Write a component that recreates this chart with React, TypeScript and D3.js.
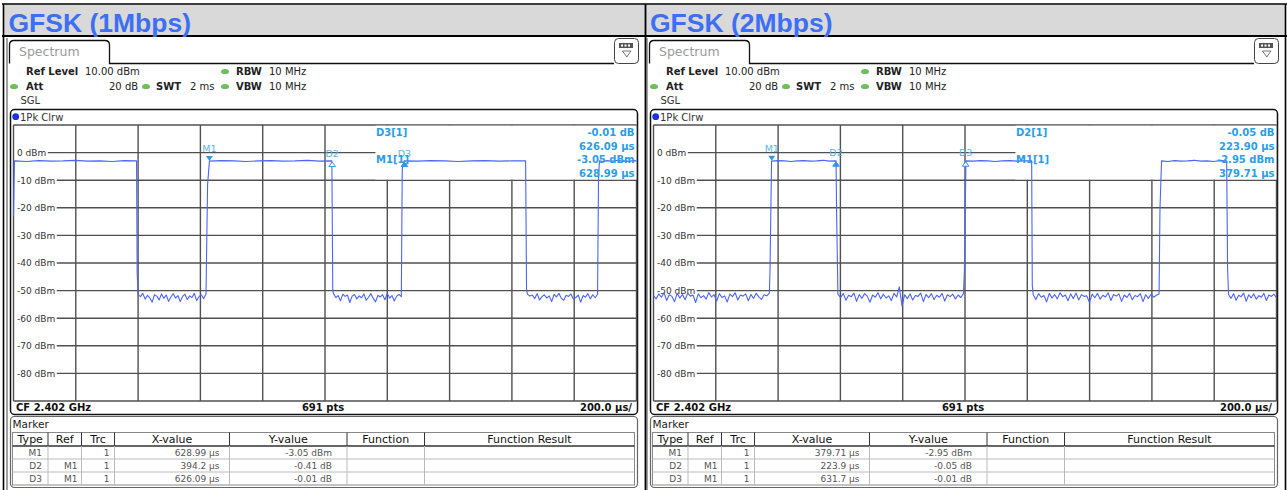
import React, { useEffect, useRef } from "react";
import * as d3 from "d3";

const W = 1287;
const H = 490;

// axes
const xDomain = [0, 2000]; // µs, 200 µs/div
const yDomain = [-90, 10]; // dBm
const yTicks = [0, -10, -20, -30, -40, -50, -60, -70, -80];
const xDivs = [0, 200, 400, 600, 800, 1000, 1200, 1400, 1600, 1800, 2000];

const titles = ["GFSK (1Mbps)", "GFSK (2Mbps)"];

// trace levels (dBm)
const highA = [-3.0, -3.2, -2.9, -3.1, -3.0, -2.8, -3.1, -3.0, -3.2, -2.9, -3.0];
const highB = [-3.1, -2.9, -3.0, -3.2, -3.0, -2.9, -3.1, -3.0, -2.8, -3.1, -3.0];
const highC = [-3.0, -3.1, -2.9, -3.0, -3.2, -3.0, -2.9, -3.1, -3.0, -3.0];

const noise1A = [-51.4, -52.2, -51.0, -53.1, -51.7, -52.6, -54.2, -51.5, -52.0, -53.4, -51.2, -52.8, -51.6, -53.9, -52.3,
  -51.1, -52.7, -51.8, -54.0, -52.1, -51.3, -53.2, -51.9, -52.5, -51.0, -53.6, -52.2, -51.5, -52.9, -51.2];
const noise1B = [-51.0, -52.5, -51.8, -53.7, -51.3, -52.1, -51.6, -54.3, -52.0, -51.4, -53.0, -51.9, -52.6, -51.2, -53.5,
  -52.4, -51.1, -52.8, -54.1, -51.7, -52.3, -51.5, -53.3, -51.0, -52.7, -51.8, -53.8, -52.0, -51.4, -52.2];
const noise1C = [-51.3, -52.0, -51.6, -52.9, -51.1, -53.4, -52.2, -51.5, -52.7, -51.9, -54.0, -51.4, -52.3, -51.0, -52.8,
  -53.5, -51.7, -52.1, -51.2, -53.1, -52.5, -51.6, -54.2, -51.8, -52.4, -51.1, -53.0, -51.5, -52.6, -51.3];

const noise2A = [-51.8, -53.0, -51.2, -52.4, -50.8, -53.6, -51.5, -52.1, -54.0, -51.0, -52.7, -51.4, -53.3, -50.9, -52.0,
  -51.6, -54.3, -51.2, -52.6, -51.8, -53.1, -50.7, -52.3, -51.5, -53.8, -51.1, -52.5, -51.9, -54.1, -51.3,
  -52.2, -50.8, -53.4, -51.6, -52.0, -51.2, -53.7, -51.4, -52.8, -51.0, -52.3, -53.2, -51.5, -51.9, -50.9];
const noise2B = [-51.2, -52.6, -51.0, -53.5, -51.7, -52.2, -50.9, -53.9, -51.4, -52.8, -51.1, -52.0, -54.2, -51.6, -52.4,
  -50.8, -53.0, -51.3, -52.7, -51.9, -53.6, -51.0, -52.3, -48.6, -55.6, -51.5, -52.9, -51.2, -53.4, -51.8,
  -52.1, -50.9, -54.0, -51.4, -52.6, -51.1, -53.2, -51.7, -52.4, -51.0, -53.8, -51.5, -52.2, -51.3, -53.0,
  -51.6, -52.5, -51.1];
const noise2C = [-51.5, -53.2, -51.1, -52.4, -51.8, -54.1, -51.0, -52.7, -51.4, -53.0, -50.8, -52.2, -51.6, -53.7, -51.2,
  -52.9, -50.9, -53.4, -51.5, -52.1, -51.9, -54.3, -51.3, -52.6, -51.0, -53.1, -51.7, -52.3, -50.8, -53.6,
  -51.4, -52.0, -51.2, -53.9, -51.6, -52.5, -51.0, -53.3, -51.8, -52.2, -51.1, -54.0, -51.5, -52.8, -51.3,
  -52.4, -51.7, -51.2];
const noise2D = [-51.4, -52.8, -51.1, -53.5, -51.7, -52.2, -50.9, -53.9, -51.5, -52.6, -51.2, -53.1, -51.8, -52.4, -51.0,
  -53.6, -51.6, -52.1, -51.3, -52.7];

type Seg = [number, number, number[]];

// [t0 µs, t1 µs, levels]
const trace1: Seg[] = [
  [0, 0, [-23]],
  [3, 395, highA],
  [397, 397, [-43.6]],
  [400, 618, noise1A],
  [623, 623, [-11.7]],
  [629, 1022, highB],
  [1025, 1025, [-50]],
  [1027, 1245, noise1B],
  [1248, 1248, [-6]],
  [1254, 1644, highC],
  [1647, 1647, [-49.5]],
  [1650, 1875, noise1C],
  [1878, 1878, [-10]],
  [1881, 2000, highA],
];

const trace2: Seg[] = [
  [0, 372, noise2A],
  [374, 374, [-43]],
  [379, 586, highB],
  [588, 588, [-23]],
  [592, 995, noise2B],
  [998, 998, [-43]],
  [1003, 1214, highC],
  [1216, 1216, [-48]],
  [1219, 1623, noise2C],
  [1626, 1626, [-20]],
  [1631, 1840, highA],
  [1843, 1843, [-42]],
  [1846, 2000, noise2D],
];

// markers as seen on screen: name, µs, dBm, active
const markers1: [string, number, number, boolean][] = [
  ["M1", 629, -3.05, true],
  ["D2", 1023, -3.05, false],
  ["D3", 1255, -3.05, true],
];
const markers2: [string, number, number, boolean][] = [
  ["M1", 379.7, -2.95, true],
  ["D2", 586, -2.95, true],
  ["D3", 1002, -2.95, false],
];

const info1 = ["D3[1]", "M1[1]"];
const infoVals1 = ["-0.01 dB", "626.09 µs", "-3.05 dBm", "628.99 µs"];
const info2 = ["D2[1]", "M1[1]"];
const infoVals2 = ["-0.05 dB", "223.90 µs", "-2.95 dBm", "379.71 µs"];

const tableHead = ["Type", "Ref", "Trc", "X-value", "Y-value", "Function", "Function Result"];
const table1 = [
  ["M1", "", "1", "628.99 µs", "-3.05 dBm"],
  ["D2", "M1", "1", "394.2 µs", "-0.41 dB"],
  ["D3", "M1", "1", "626.09 µs", "-0.01 dB"],
];
const table2 = [
  ["M1", "", "1", "379.71 µs", "-2.95 dBm"],
  ["D2", "M1", "1", "223.9 µs", "-0.05 dB"],
  ["D3", "M1", "1", "631.7 µs", "-0.01 dB"],
];

const FONT = "DejaVu Sans, Verdana, sans-serif";
const TRACE = "#4d64f5";
const MK = "#2b9be0";

function tracePoints(segs: Seg[]) {
  const pts: [number, number][] = [];
  segs.forEach(([t0, t1, v]) => {
    v.forEach((d, i) => {
      const t = v.length === 1 ? t0 : t0 + (i * (t1 - t0)) / (v.length - 1);
      pts.push([t, d]);
    });
  });
  return pts;
}

function drawPanel(svg: any, dx: number, title: string, segs: Seg[], markers: [string, number, number, boolean][], info: string[], infoVals: string[], rows: string[][]) {
  // title in gray header cell
  svg.append("text").attr("x", dx === 0 ? 8.5 : 650).attr("y", 31.5)
    .attr("font-family", "Liberation Sans, Arial, sans-serif").attr("font-weight", "bold")
    .attr("font-size", 26.5).attr("fill", "#3d6ff5").text(title);

  const g = svg.append("g").attr("transform", `translate(${dx},0)`);

  // screenshot left edge
  g.append("line").attr("x1", 7).attr("x2", 7).attr("y1", 38).attr("y2", H).attr("stroke", "#444");

  // Spectrum tab
  g.append("path")
    .attr("d", "M9.5,63.5 V45 Q9.5,40.5 14,40.5 H105 Q109.5,40.5 109.5,45 V63.5 H614")
    .attr("fill", "none").attr("stroke", "#111").attr("stroke-width", 1.3);
  g.append("text").attr("x", 19).attr("y", 56).attr("font-family", FONT).attr("font-size", 12.5)
    .attr("fill", "#9a9a9a").text("Spectrum");

  // icon
  g.append("rect").attr("x", 614.5).attr("y", 38.5).attr("width", 24).attr("height", 25).attr("rx", 4)
    .attr("fill", "#fff").attr("stroke", "#444");
  g.append("rect").attr("x", 619).attr("y", 43).attr("width", 14).attr("height", 5).attr("fill", "#555");
  [621, 624.5, 628].forEach((x) => g.append("rect").attr("x", x).attr("y", 44.5).attr("width", 2).attr("height", 2).attr("fill", "#fff"));
  g.append("path").attr("d", "M622.5,51 H631 L626.75,57 Z").attr("fill", "none").attr("stroke", "#777");

  // settings
  const txt = (x: number, y: number, s: string, bold = false, size = 10, fill = "#222", anchor = "start") =>
    g.append("text").attr("x", x).attr("y", y).attr("font-family", FONT).attr("font-size", size)
      .attr("font-weight", bold ? "bold" : "normal").attr("fill", fill).attr("text-anchor", anchor).text(s);
  const dot = (x: number, y: number) =>
    g.append("ellipse").attr("cx", x).attr("cy", y).attr("rx", 4).attr("ry", 2.6).attr("fill", "#6cbf5c");
  txt(26, 75, "Ref Level", true);
  txt(85, 75, "10.00 dBm");
  dot(225, 71.5);
  txt(236, 75, "RBW", true);
  txt(269, 75, "10 MHz");
  dot(14, 86.5);
  txt(26, 90, "Att", true);
  txt(109, 90, "20 dB");
  dot(146, 86.5);
  txt(156, 90, "SWT", true);
  txt(190, 90, "2 ms");
  dot(225, 86.5);
  txt(236, 90, "VBW", true);
  txt(269, 90, "10 MHz");
  txt(20.5, 104, "SGL", false, 10, "#333");

  // diagram frame
  g.append("rect").attr("x", 10.5).attr("y", 109.5).attr("width", 627).attr("height", 305).attr("rx", 4)
    .attr("fill", "#fff").attr("stroke", "#111").attr("stroke-width", 1.5);
  g.append("circle").attr("cx", 15.7).attr("cy", 116.7).attr("r", 3.4).attr("fill", "#1a35e8");
  txt(20, 120.5, "1Pk Clrw", false, 10, "#333");

  const x = d3.scaleLinear().domain(xDomain).range([13.5, 636.5]);
  const y = d3.scaleLinear().domain(yDomain).range([401, 125]);

  // grid
  const grid = g.append("g").attr("stroke", "#505050").attr("stroke-width", 1.4);
  xDivs.forEach((t) => grid.append("line").attr("x1", x(t)).attr("x2", x(t)).attr("y1", y(10)).attr("y2", y(-90)));
  yTicks.forEach((v) => {
    const lab = txt(17, y(v) + 3.3, `${v} dBm`, false, 9, "#333");
    const w = (lab.node() as SVGTextElement).getComputedTextLength();
    grid.append("line").attr("x1", 17 + w + 1.5).attr("x2", x(2000)).attr("y1", y(v)).attr("y2", y(v));
  });
  grid.append("line").attr("x1", x(0)).attr("x2", x(2000)).attr("y1", y(10)).attr("y2", y(10));
  grid.append("line").attr("x1", x(0)).attr("x2", x(2000)).attr("y1", y(-90)).attr("y2", y(-90));

  // marker info box covers grid
  g.append("rect").attr("x", 375.5).attr("y", y(10) + 0.7).attr("width", x(2000) - 375.5).attr("height", y(-10) - y(10) - 1.4)
    .attr("fill", "#fff");

  // trace
  const line = d3.line<[number, number]>().x((d) => x(d[0])).y((d) => y(d[1]));
  g.append("path").datum(tracePoints(segs)).attr("d", line).attr("fill", "none")
    .attr("stroke", TRACE).attr("stroke-width", 1.1).attr("stroke-linejoin", "round");

  // markers
  markers.forEach(([name, t, v, active]) => {
    const mx = x(t);
    const my = y(v);
    if (name === "M1") {
      g.append("path").attr("d", `M${mx - 3.5},${my - 5} H${mx + 3.5} L${mx},${my} Z`).attr("fill", MK);
      txt(mx, my - 9, name, false, 9.5, "#5ab6ec", "middle");
    } else {
      g.append("path").attr("d", `M${mx - 3.3},${my + 5.5} H${mx + 3.3} L${mx},${my + 1} Z`)
        .attr("fill", active ? MK : "#fff").attr("stroke", MK).attr("stroke-width", 1);
      txt(mx, my - 4.5, name, false, 9.5, "#5ab6ec", "middle");
    }
  });

  // marker info text
  const base = [136, 149.5, 163, 176.5];
  txt(376, base[0], info[0], true, 10, "#2a9ee6");
  txt(376, base[2], info[1], true, 10, "#2a9ee6");
  infoVals.forEach((s, i) => txt(634.5, base[i], s, true, 10, "#2a9ee6", "end"));

  // status bar
  txt(16, 411, "CF 2.402 GHz", true, 10, "#111");
  txt(323, 411, "691 pts", true, 10, "#111", "middle");
  txt(632, 411, "200.0 µs/", true, 10, "#111", "end");

  // marker table
  g.append("rect").attr("x", 10.5).attr("y", 416.5).attr("width", 627).attr("height", 71).attr("rx", 4)
    .attr("fill", "#fff").attr("stroke", "#666").attr("stroke-width", 1.2);
  txt(12.5, 428, "Marker", false, 10.5, "#222");
  const cols = [12.5, 48, 81.5, 114.5, 229.5, 347, 424.5, 634.5];
  const pads = [6, 4, 5, 10, 15];
  const top = 432.5;
  const headH = 13.5;
  const rowH = 13;
  const bottom = top + headH + rowH * 3;
  g.append("rect").attr("x", cols[0]).attr("y", top).attr("width", cols[7] - cols[0]).attr("height", bottom - top)
    .attr("fill", "none").attr("stroke", "#888");
  g.append("line").attr("x1", cols[0]).attr("x2", cols[7]).attr("y1", top + headH).attr("y2", top + headH)
    .attr("stroke", "#333").attr("stroke-width", 1.3);
  [1, 2].forEach((r) => g.append("line").attr("x1", cols[0]).attr("x2", cols[7])
    .attr("y1", top + headH + r * rowH).attr("y2", top + headH + r * rowH).attr("stroke", "#bbb"));
  cols.slice(1, 7).forEach((c) => {
    g.append("line").attr("x1", c).attr("x2", c).attr("y1", top).attr("y2", top + headH).attr("stroke", "#333");
    g.append("line").attr("x1", c).attr("x2", c).attr("y1", top + headH).attr("y2", bottom).attr("stroke", "#bbb");
  });
  tableHead.forEach((h, i) => txt((cols[i] + cols[i + 1]) / 2, top + 10.5, h, false, 11, "#111", "middle"));
  rows.forEach((r, ri) => r.forEach((s, ci) => {
    if (s) txt(cols[ci + 1] - pads[ci], top + headH + ri * rowH + 10, s, false, 9, "#555", "end");
  }));
}

function drawAll(el: SVGSVGElement) {
  const svg = d3.select(el);
  svg.selectAll("*").remove();
  svg.append("rect").attr("width", W).attr("height", H).attr("fill", "#fff");

  // outer table: gray header row with titles
  svg.append("rect").attr("x", 3.5).attr("y", 4.5).attr("width", W - 5).attr("height", 31).attr("fill", "#d9d9d9");
  const frame = svg.append("g").attr("stroke", "#000");
  frame.append("line").attr("x1", 2).attr("x2", W).attr("y1", 4).attr("y2", 4).attr("stroke-width", 1.6);
  frame.append("line").attr("x1", 2).attr("x2", W).attr("y1", 36).attr("y2", 36).attr("stroke-width", 1.8);
  frame.append("line").attr("x1", 3.5).attr("x2", 3.5).attr("y1", 4).attr("y2", H).attr("stroke-width", 1.6);
  frame.append("line").attr("x1", 645.5).attr("x2", 645.5).attr("y1", 4).attr("y2", H).attr("stroke-width", 1.8);
  frame.append("line").attr("x1", 1285.5).attr("x2", 1285.5).attr("y1", 4).attr("y2", H).attr("stroke-width", 1.6);

  drawPanel(svg, 0, titles[0], trace1, markers1, info1, infoVals1, table1);
  drawPanel(svg, 640, titles[1], trace2, markers2, info2, infoVals2, table2);
}

export default function App() {
  const ref = useRef<SVGSVGElement>(null);

  useEffect(() => {
    if (ref.current) drawAll(ref.current);
  }, []);

  return (
    <svg
      ref={ref}
      width={W}
      height={H}
      style={{ position: "absolute", left: 0, top: 0, display: "block" }}
    />
  );
}
